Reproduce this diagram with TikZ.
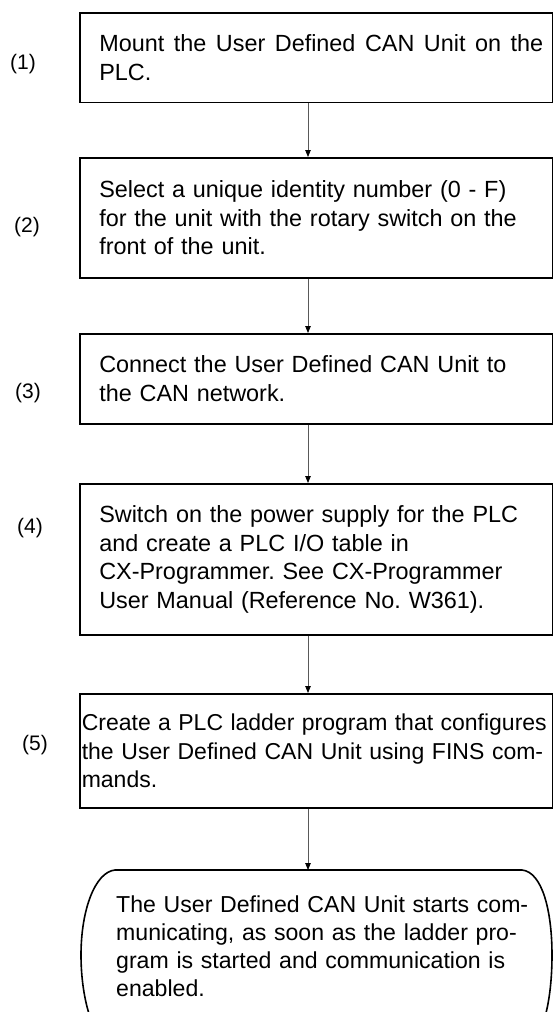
\documentclass[tikz,border=0pt]{standalone}
\usepackage{fontspec}
\setmainfont{Liberation Sans}
\usetikzlibrary{arrows.meta}
\frenchspacing
\newcommand{\fillline}[2]{\makebox[#1][s]{\spaceskip=.28em plus 1em\relax #2}}
\begin{document}
\begin{tikzpicture}[x=1pt,y=-1pt,
  txt/.style={font=\fontsize{23.4}{28.5}\selectfont\frenchspacing, text=black},
  stepbox/.style={txt, draw=black, line width=1.6pt, anchor=north west,
    minimum width=473pt, inner ysep=0pt, inner xsep=19.5pt,
    text width=434pt, align=left},
  numlabel/.style={font=\fontsize{21}{25}\selectfont, text=black},
  arr/.style={draw=black!65, line width=0.8pt,
    -{Triangle[length=7pt,width=5.5pt,color=black]}},
  endshape/.style={draw=black, line width=1.6pt}
]
\useasboundingbox (0,0) rectangle (553,1012);
\clip (0,0) rectangle (553,1012);

\coordinate (ax) at (308,0);

\node[stepbox, minimum height=89.5pt] (b1) at (79,12)
  {\fillline{444pt}{Mount the User Defined CAN Unit on the}\\PLC.};
\node[stepbox, minimum height=120pt] (b2) at (79,157)
  {Select a unique identity number (0 - F)\\for the unit with the rotary switch on the\\front of the unit.};
\node[stepbox, minimum height=90pt] (b3) at (79,333)
  {Connect the User Defined CAN Unit to\\the CAN network.};
\node[stepbox, minimum height=151pt] (b4) at (79,483)
  {Switch on the power supply for the PLC\\and create a PLC I/O table in\\CX-Programmer. See CX-Programmer\\User Manual (Reference No. W361).};
\node[stepbox, minimum height=114pt, inner xsep=2pt, text width=469pt,
  font=\fontsize{23}{28.5}\selectfont\frenchspacing] (b5) at (79,693)
  {\fillline{465pt}{Create a PLC ladder program that configures}\\\mbox{the User Defined CAN Unit using FINS com-}\\mands.};

% terminal shape
\coordinate (endtop) at (308,870);
\draw[endshape] (115,870) -- (522,870)
  .. controls (542,872) and (552,910) .. (552,955)
  .. controls (552,1000) and (543,1045) .. (522,1048)
  -- (115,1048)
  .. controls (94,1045) and (81,1000) .. (81,955)
  .. controls (81,910) and (95,872) .. (115,870) -- cycle;
\node[txt, font=\fontsize{23.1}{28.3}\selectfont\frenchspacing, anchor=base west, inner sep=0pt, text width=430pt, align=left] (end) at (116,912)
  {The User Defined CAN Unit starts com-\\municating, as soon as the ladder pro-\\gram is started and communication is\\enabled.};

% step numbers
\node[numlabel] (n1) at (23,64) {(1)};
\node[numlabel] (n2) at (27,227) {(2)};
\node[numlabel] (n3) at (28,393) {(3)};
\node[numlabel] (n4) at (30,528) {(4)};
\node[numlabel] (n5) at (35,745) {(5)};

% connectors
\draw[arr] (b1.south -| ax) -- (b2.north -| ax);
\draw[arr] (b2.south -| ax) -- (b3.north -| ax);
\draw[arr] (b3.south -| ax) -- (b4.north -| ax);
\draw[arr] (b4.south -| ax) -- (b5.north -| ax);
\draw[arr] (b5.south -| ax) -- (endtop);
\end{tikzpicture}
\end{document}
